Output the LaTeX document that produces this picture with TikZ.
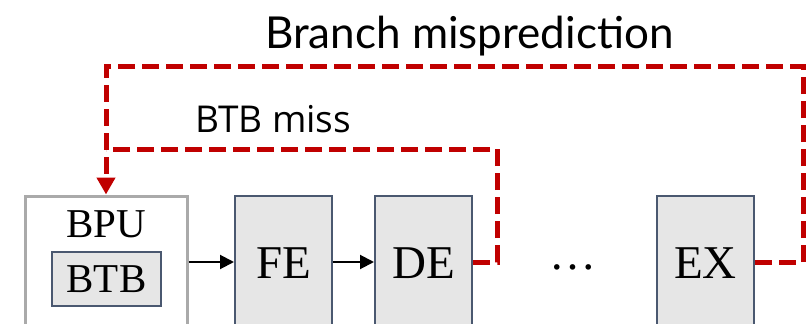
\documentclass[tikz,border=0pt]{standalone}
\usepackage{fontspec}
\setmainfont{Liberation Serif}
\newfontfamily\labelfont{Lato}
\newfontfamily\misslabelfont{Open Sans}
\usetikzlibrary{arrows.meta}
\definecolor{flushred}{HTML}{C00000}
\definecolor{slate}{HTML}{4A5870}
\definecolor{boxgray}{HTML}{E6E6E6}
\definecolor{bpugray}{HTML}{AAAAAA}
\begin{document}
\begin{tikzpicture}[x=1pt,y=-1pt,
  stage/.style={draw=slate, fill=boxgray, line width=2pt, minimum width=97pt,
    minimum height=135pt, inner sep=0pt, font=\fontsize{47}{47}\selectfont},
  flow/.style={line width=2pt, -{Triangle[length=14pt,width=14pt]}},
  flush/.style={draw=flushred, line width=5pt, dash pattern=on 17pt off 7pt},
  txt/.style={inner sep=0pt, anchor=base}]
\useasboundingbox (0,0) rectangle (806,324);

% branch prediction unit with its target buffer
\node[draw=bpugray, line width=3pt, minimum width=162pt, minimum height=135pt, inner sep=0pt] (bpu) at (106,263.5) {};
\node[txt, font=\fontsize{41}{41}\selectfont] (bpulbl) at (106,237) {BPU};
\node[draw=slate, fill=boxgray, line width=2pt, minimum width=109pt, minimum height=54pt, inner sep=0pt,
  font=\fontsize{41}{41}\selectfont] (btb) at (106.5,279) {BTB};

% pipeline stages
\node[stage] (fe) at (283.5,263.5) {FE};
\node[stage] (de) at (423.5,263.5) {DE};
\node[stage] (ex) at (705.5,263.5) {EX};
\node[txt, font=\fontsize{47}{47}\selectfont] (dots) at (573,269) {…};

% in-order flow
\draw[flow] ([yshift=1.5pt]bpu.east) -- ([yshift=1.5pt]fe.west);
\draw[flow] ([yshift=1.5pt]fe.east) -- ([yshift=1.5pt]de.west);

% redirect paths
\coordinate (missturn) at (497,149);
\coordinate (misscorner) at (106,149);
\coordinate (mispturn) at (803,66);
\coordinate (mispcorner) at (106,66);
\draw[flush] ([yshift=1.5pt]de.east) -| (missturn) -- (misscorner);
\draw[flush, -{Triangle[length=17pt,width=18pt]}] ([yshift=1.5pt]ex.east) -| (mispturn) -- (mispcorner) -- (bpu.north);

% path labels
\node[txt, anchor=base west, font=\labelfont\fontsize{44}{44}\selectfont] (misplbl) at (265,48) {Branch misprediction};
\node[txt, anchor=base west, font=\misslabelfont\fontsize{37}{37}\selectfont] (misslbl) at (195,132) {BTB miss};
\end{tikzpicture}
\end{document}
